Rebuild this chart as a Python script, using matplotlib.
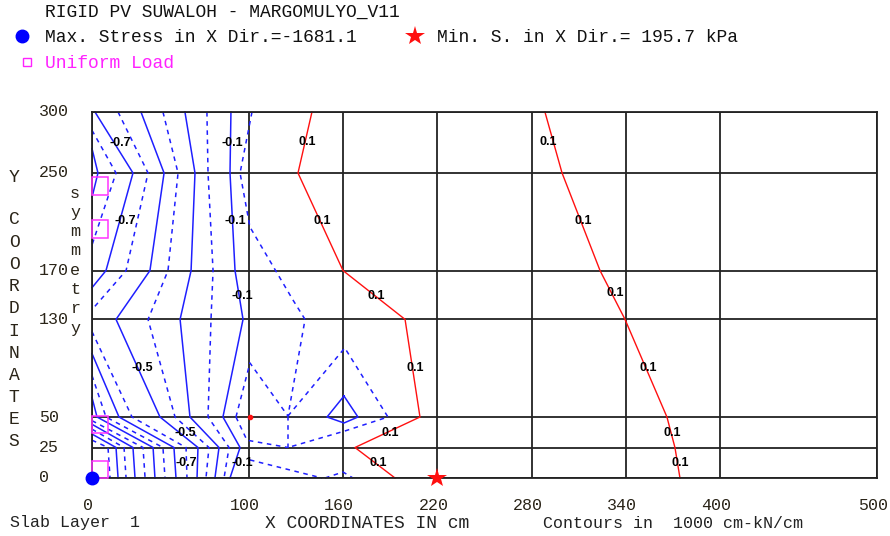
import matplotlib
matplotlib.use('Agg')
import matplotlib.pyplot as plt
import matplotlib.transforms as mtransforms
from matplotlib.patches import Rectangle
from matplotlib.lines import Line2D

# grid of the slab mesh
x_grid = [0, 100, 160, 220, 280, 340, 400, 500]
y_grid = [0, 25, 50, 130, 170, 250, 300]
x_tick_labels = ['0', '100', '160', '220', '280', '340', '400', '500']
y_tick_labels = ['0', '25', '50', '130', '170', '250', '300']

# contour polylines (x, y) in cm
blue_solid = [
    [(0, 270), (3.8, 250), (0, 230)],
    [(1.9, 300), (26.1, 250), (8.9, 170), (0, 156)],
    [(31.2, 300), (45.9, 250), (36.9, 170), (15.3, 130), (43.3, 50), (67.5, 25), (66.9, 0)],
    [(59.2, 300), (65.6, 250), (63.1, 170), (56.1, 130), (62.4, 50), (80.9, 25), (78.3, 0)],
    [(88.5, 300), (87.9, 250), (91.1, 170), (96.2, 130), (83.4, 50), (94.3, 25), (87.9, 0)],
    [(0, 102), (17.2, 50), (52.2, 25), (53.5, 0)],
    [(0, 66), (3.2, 50), (38.9, 25), (40.1, 0)],
    [(0, 44), (26.1, 25), (27.4, 0)],
    [(0, 36), (15.3, 25), (16.6, 0)],
    [(160.5, 67.2), (149.7, 50), (160.5, 45.1), (169.4, 50), (160.5, 67.2)],
]
blue_dashed = [
    [(0, 285), (15.3, 250), (0, 191)],
    [(16.6, 300), (35.7, 250), (21.7, 170), (0, 138)],
    [(45.2, 300), (54.8, 250), (48.4, 170), (35.7, 130), (52.9, 50), (74.5, 25), (72.6, 0)],
    [(73.2, 300), (73.9, 250), (77.1, 170), (75.8, 130), (73.9, 50), (87.3, 25), (84.1, 0)],
    [(101.9, 300), (94.3, 250), (100.6, 205.7), (128, 145.9), (135.7, 130), (124.8, 50.8)],
    [(0, 120), (25.5, 50), (59.9, 25), (60.5, 0)],
    [(0, 84), (8.9, 50), (45.2, 25), (46.5, 0)],
    [(0, 47), (32.5, 25), (33.8, 0)],
    [(0, 40), (20.4, 25), (21.7, 0)],
    [(0, 31), (10.2, 25), (11.5, 0)],
    [(91.7, 50), (100.6, 94.3), (124.8, 50.8)],
    [(124.8, 50.8), (161, 106.6), (188.5, 50), (161, 38.5), (124.8, 25)],
    [(124.8, 50.8), (124.8, 25)],
    [(91.7, 50), (98.7, 31), (124.8, 25)],
    [(100.6, 14.8), (146.5, 0)],
    [(148.4, 0), (159.9, 4.9), (166.2, 0)],
]
red_lines = [
    [(140.1, 300), (131.2, 250), (159.9, 170), (199.4, 130), (208.9, 50), (167.5, 25), (193.0, 0)],
    [(288.5, 300), (299.4, 250), (323.6, 170), (339.5, 130), (366.2, 50), (371.3, 25), (374.5, 0)],
]

# contour labels
blue_label_text = ['-0.7', '-0.1', '-0.7', '-0.1', '-0.1', '-0.5', '-0.5', '-0.7', '-0.1']
blue_label_x = [17.8, 89.2, 21.0, 91.1, 95.5, 31.8, 59.2, 59.9, 95.5]
blue_label_y = [274.6, 274.6, 210.7, 210.7, 149.2, 90.2, 36.9, 12.3, 12.3]
red_label_x = [136.9, 146.5, 180.9, 205.7, 189.8, 182.2, 290.4, 312.7, 333.1, 354.1, 369.4, 374.5]
red_label_y = [275.4, 210.7, 149.2, 90.2, 36.9, 12.3, 275.4, 210.7, 151.6, 90.2, 36.9, 12.3]

# uniform load patches (x0, y0, w, h)
load_x0 = [0, 0, 0, 0]
load_y0 = [232, 197, 37, 0]
load_w = [10.5, 10.5, 10.5, 10.5]
load_h = [14.5, 14.5, 13.5, 14]

max_pt = (0, 0)
min_pt = (220, 0)
red_dot = (100.6, 50)

MONO = 'Liberation Mono'
BLUE = '#1f1fff'
TXT = '#2a2418'

fig = plt.figure(figsize=(8.9, 5.36), dpi=100)
ax = fig.add_axes([92 / 890, 1 - 478 / 536, 785 / 890, 366 / 536])
ax.set_xlim(0, 500)
ax.set_ylim(0, 300)
ax.set_xticks([])
ax.set_yticks([])

for gx in x_grid:
    ax.axvline(gx, color='#222222', lw=1.3, zorder=1)
for gy in y_grid:
    ax.axhline(gy, color='#222222', lw=1.3, zorder=1)
for s in ax.spines.values():
    s.set_color('#222222')
    s.set_linewidth(1.3)

for line in blue_solid:
    xs, ys = zip(*line)
    ax.plot(xs, ys, color=BLUE, lw=1.1, zorder=2, clip_on=False)
for line in blue_dashed:
    xs, ys = zip(*line)
    ax.plot(xs, ys, color=BLUE, lw=1.1, ls=(0, (3, 3)), zorder=2, clip_on=False)
for line in red_lines:
    xs, ys = zip(*line)
    ax.plot(xs, ys, color='#ff1010', lw=1.0, zorder=2, clip_on=False)

for t, x, y in zip(blue_label_text, blue_label_x, blue_label_y):
    ax.text(x, y, t, fontsize=9, fontweight='bold', family='Liberation Sans',
            ha='center', va='center', zorder=4)
for x, y in zip(red_label_x, red_label_y):
    ax.text(x, y, '0.1', fontsize=9, fontweight='bold', family='Liberation Sans',
            ha='center', va='center', zorder=4)

for x0, y0, w, h in zip(load_x0, load_y0, load_w, load_h):
    ax.add_patch(Rectangle((x0, y0), w, h, fill=False, ec='#ff33ff', lw=1.1,
                           zorder=3, clip_on=False))

ax.plot(*max_pt, 'o', color='#0000ff', ms=9, zorder=5, clip_on=False)
ax.plot(*min_pt, '*', color='#ff1010', ms=15, mew=0, zorder=5, clip_on=False)
ax.plot(*red_dot, 'o', color='#ff1010', ms=3, zorder=5)

# tick labels
xlab_tr = mtransforms.offset_copy(
    mtransforms.blended_transform_factory(ax.transData, fig.transFigure),
    fig=fig, x=-4, y=0, units='dots')
for lab, gx in zip(x_tick_labels, x_grid):
    ax.text(gx, 1 - 505 / 536, lab, transform=xlab_tr, family=MONO, fontsize=12,
            color=TXT, ha='center', va='center')
ylab_tr = mtransforms.blended_transform_factory(fig.transFigure, ax.transData)
for lab, gy in zip(y_tick_labels, y_grid):
    ax.text(39 / 890, gy, lab, transform=ylab_tr, family=MONO, fontsize=12,
            color=TXT, ha='left', va='center')


def ftext(px, py, s, **kw):
    fig.text(px / 890, 1 - py / 536, s, family=MONO, va='center', **kw)


ftext(45, 12, 'RIGID PV SUWALOH - MARGOMULYO_V11', fontsize=13, color='#111111')
ftext(45, 37, 'Max. Stress in X Dir.=-1681.1', fontsize=13, color='#111111')
ftext(437, 37, 'Min. S. in X Dir.= 195.7 kPa', fontsize=13, color='#111111')
ftext(45, 64, 'Uniform Load', fontsize=13, color='#ff22ff')
fig.add_artist(Line2D([22 / 890], [1 - 36 / 536], marker='o', color='#0000ff', ms=9,
                      transform=fig.transFigure))
fig.add_artist(Line2D([415 / 890], [1 - 36 / 536], marker='*', color='#ff1010', ms=15, mew=0,
                      transform=fig.transFigure))
fig.add_artist(Line2D([27 / 890], [1 - 62 / 536], marker='s', mfc='none', mec='#ff22ff', ms=6,
                      mew=1.0, transform=fig.transFigure))

ftext(14, 177, 'Y', fontsize=13, color=TXT, ha='center')
for i, ch in enumerate('COORDINATES'):
    ftext(14, 220 + 22.2 * i, ch, fontsize=13, color=TXT, ha='center')
for i, ch in enumerate('symmetry'):
    ftext(75, 193 + 19.3 * i, ch, fontsize=12, color=TXT, ha='center')

ftext(10, 523, 'Slab Layer  1', fontsize=12, color='#222222')
ftext(265, 523, 'X COORDINATES IN cm', fontsize=13, color='#222222')
ftext(543, 523, 'Contours in  1000 cm-kN/cm', fontsize=12, color='#222222')

fig.savefig('out.png', dpi=100)
